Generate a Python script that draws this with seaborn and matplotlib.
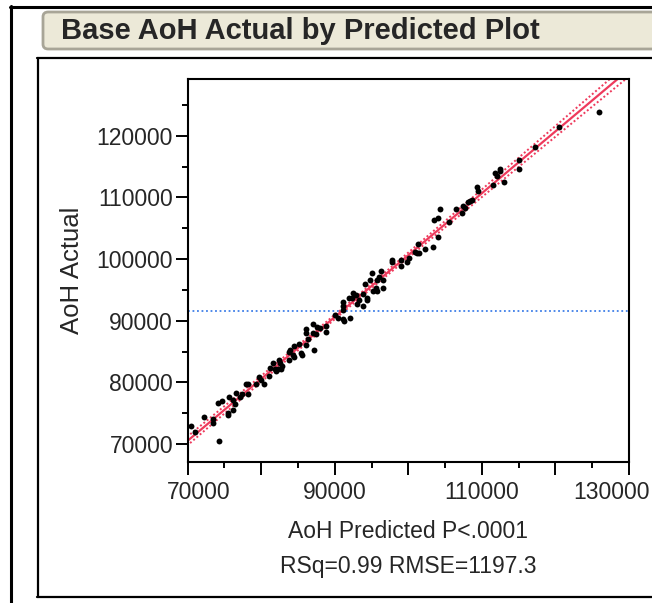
import numpy as np
import pandas as pd
import matplotlib
matplotlib.use("Agg")
import matplotlib.pyplot as plt
import seaborn as sns
from matplotlib.patches import FancyBboxPatch
from matplotlib.lines import Line2D
from matplotlib.ticker import MultipleLocator, FuncFormatter
from matplotlib.transforms import ScaledTranslation

# values
x_pred = [70450, 71060, 72260, 74320, 73400, 73400, 74080, 74640, 75520, 75520,
          75550, 76160, 76120, 76470, 76500, 77110, 77380, 77990, 78240, 78160,
          79290, 79690, 79970, 80370, 81010, 81150, 81600, 81900, 82250, 82070,
          82450, 82750, 82780, 82550, 83750, 83840, 83950, 84520, 84490, 84360,
          85160, 85360, 85500, 86080, 86150, 86080, 86330, 87000, 87210, 87100,
          87510, 87540, 87920, 88740, 88800, 90030, 90370, 91070, 91160, 91180,
          91070, 91250, 92070, 91970, 92340, 92540, 92920, 92980, 93330, 93790,
          93830, 94420, 94310, 94170, 94790, 95020, 95150, 95670, 95630, 95670,
          96050, 96510, 96240, 96510, 97740, 97740, 98960, 98960, 99820, 100130,
          100900, 101140, 101350, 101450, 102260, 103390, 103420, 104070, 104070, 104300,
          105570, 106480, 107430, 107670, 107360, 108150, 108380, 108610, 109290, 109430,
          111550, 111820, 112090, 112460, 112460, 113050, 115090, 115090, 117220, 120520,
          125960]
y_actual = [72980, 71920, 74400, 70500, 74040, 73390, 76610, 76940, 75050, 74690,
            77700, 77220, 75540, 76560, 78360, 77650, 78190, 79790, 79790, 78060,
            79790, 80910, 80420, 79820, 81120, 82300, 83080, 82220, 82220, 81860,
            83650, 82180, 82640, 83190, 83620, 84920, 85280, 84170, 85930, 84380,
            86250, 84820, 84410, 88700, 88080, 86010, 86990, 89430, 85200, 88080,
            87800, 89060, 88810, 88130, 89100, 90900, 90490, 93060, 92440, 91790,
            90330, 89970, 90520, 93620, 93780, 94430, 94150, 92690, 93390, 92410,
            94400, 93390, 93780, 95950, 96650, 97740, 94850, 94850, 95290, 96650,
            97040, 96650, 98110, 95250, 99900, 99530, 99890, 98830, 99580, 100260,
            101210, 100990, 102430, 100960, 101650, 102050, 106420, 106690, 103520, 108160,
            105990, 108160, 108570, 108320, 107480, 109250, 109510, 109630, 111690, 110980,
            112070, 113910, 113490, 114680, 114300, 112440, 116030, 114560, 118210, 121400,
            123910]
mean_actual = 91530
rmse = 1197.3
x_ticks = [70000, 80000, 90000, 100000, 110000, 120000, 130000]
x_tick_labels = ["70000", "", "90000", "", "110000", "", "130000"]
title = "Base AoH Actual by Predicted Plot"
x_label = "AoH Predicted P<.0001"
stats_label = "RSq=0.99 RMSE=1197.3"
y_label = "AoH Actual"

df = pd.DataFrame({"pred": x_pred, "actual": y_actual})

# fit line and confidence curves (leverage style, a bit wider than simple ci)
slope, intercept = np.polyfit(df["pred"], df["actual"], 1)
n = len(df)
xm = df["pred"].mean()
sxx = ((df["pred"] - xm) ** 2).sum()
grid = np.linspace(69000, 131000, 200)
fit = slope * grid + intercept
half = 3.2 * rmse * np.sqrt(1 / n + (grid - xm) ** 2 / sxx)
lines = pd.DataFrame({"x": grid, "fit": fit, "lo": fit - half, "hi": fit + half})

sns.set_style("white")
plt.rcParams["font.family"] = ["Liberation Sans", "DejaVu Sans"]

W, H = 652, 603
fig = plt.figure(figsize=(W / 100, H / 100), dpi=100)


def fx(px):
    return px / W


def fy(py):
    return 1 - py / H


# JMP style frame around the report
fig.add_artist(Line2D([fx(11), fx(11)], [fy(6), 0], color="black", lw=2.2))
fig.add_artist(Line2D([fx(10), 1], [fy(7), fy(7)], color="black", lw=2.2))
fig.add_artist(Line2D([fx(38), fx(38)], [fy(58), fy(597)], color="black", lw=1.6))
fig.add_artist(Line2D([fx(37), 1], [fy(58), fy(58)], color="black", lw=1.6))
fig.add_artist(Line2D([fx(37), 1], [fy(596.5), fy(596.5)], color="black", lw=1.6))
box = FancyBboxPatch((fx(43), fy(49)), fx(640), fy(12) - fy(49),
                     boxstyle="round,pad=0,rounding_size=0.008",
                     transform=fig.transFigure, facecolor="#ECE9D8",
                     edgecolor="#A8A597", lw=2)
fig.add_artist(box)
fig.text(fx(61), fy(31), title, fontsize=21, fontweight="bold",
         ha="left", va="center")

ax = fig.add_axes([fx(187.7), fy(462), fx(629) - fx(187.7), fy(78.5) - fy(462)])

red = "#EE3A5C"
sns.lineplot(data=lines, x="x", y="fit", ax=ax, color=red, lw=1.6)
sns.lineplot(data=lines, x="x", y="lo", ax=ax, color=red, lw=1.4,
             linestyle=(0, (1, 1.2)))
sns.lineplot(data=lines, x="x", y="hi", ax=ax, color=red, lw=1.4,
             linestyle=(0, (1, 1.2)))
ax.axhline(mean_actual, color="#3F7FE8", lw=1.3, linestyle=(0, (1, 1.5)))
sns.scatterplot(data=df, x="pred", y="actual", ax=ax, color="black",
                s=18, linewidth=0, zorder=5)

ax.set_xlim(70000, 130000)
ax.set_ylim(67100, 129300)
ax.set_xticks(x_ticks)
ax.set_xticklabels(x_tick_labels)
ax.xaxis.set_minor_locator(MultipleLocator(5000))
ax.yaxis.set_major_locator(MultipleLocator(10000))
ax.yaxis.set_minor_locator(MultipleLocator(5000))
ax.yaxis.set_major_formatter(FuncFormatter(lambda v, p: f"{int(round(v))}"))
ax.tick_params(which="major", direction="out", length=9, width=1.4,
               labelsize=16.5, color="black", left=True, bottom=True)
ax.tick_params(axis="x", which="major", pad=4.5)
ax.tick_params(axis="y", which="major", pad=1.5)
ax.tick_params(which="minor", direction="out", length=4.5, width=1.4,
               color="black", left=True, bottom=True)
ax.set_xlabel("")
ax.set_ylabel("")
for sp in ax.spines.values():
    sp.set_color("black")
    sp.set_linewidth(1.5)

# end labels are pulled inside the frame, as JMP does
ticks = ax.xaxis.get_major_ticks()
for tick, dx in [(ticks[0], 11), (ticks[-1], -18)]:
    lab = tick.label1
    lab.set_transform(lab.get_transform() + ScaledTranslation(dx / 100, 0, fig.dpi_scale_trans))

fig.text(fx(72), fy(270), y_label, fontsize=18.5, rotation=90,
         ha="center", va="center")
fig.text(fx(408), fy(531), x_label, fontsize=16.5, ha="center", va="center")
fig.text(fx(408), fy(566), stats_label, fontsize=16.5, ha="center", va="center")

fig.savefig("out.png", dpi=100)
